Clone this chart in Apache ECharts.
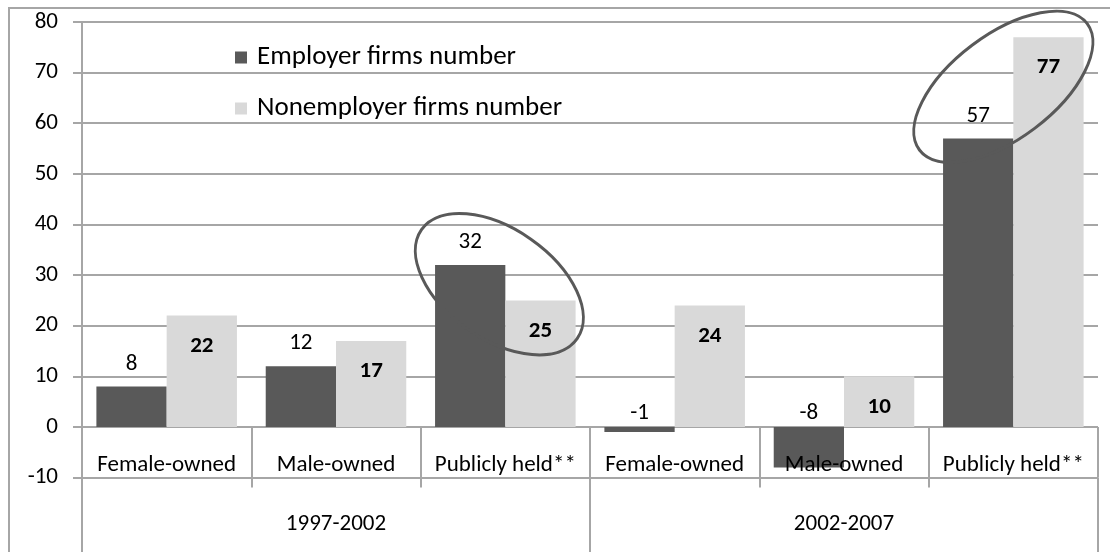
<!DOCTYPE html>
<html>
<head>
<meta charset="utf-8">
<script src="https://cdn.jsdelivr.net/npm/echarts@6/dist/echarts.min.js"></script>
<style>
  html, body { margin: 0; padding: 0; background: #fff; }
  #chart { width: 1110px; height: 552px; }
</style>
</head>
<body>
<div id="chart"></div>
<script>
// Percent change in number of firms, by ownership and period
const categories = ['Female-owned', 'Male-owned', 'Publicly held**', 'Female-owned', 'Male-owned', 'Publicly held**'];
const periods = ['1997-2002', '2002-2007'];
const employerFirms = [8, 12, 32, -1, -8, 57];
const nonemployerFirms = [22, 17, 25, 24, 10, 77];
const yMin = -10, yMax = 80, yStep = 10;

const FONT = 'Carlito, Lato, sans-serif';
const GRID_COLOR = '#a6a6a6';
const DARK = '#595959';
const LIGHT = '#d9d9d9';
const LABEL_SIZE = 23;

const chart = echarts.init(document.getElementById('chart'), null, { renderer: 'canvas' });

const option = {
  animation: false,
  backgroundColor: '#fff',
  textStyle: { fontFamily: FONT },
  grid: { left: 82, right: 12, top: 22, bottom: 74.4, containLabel: false },
  legend: {
    orient: 'vertical',
    left: 230,
    top: 39,
    itemWidth: 12,
    itemHeight: 12,
    itemGap: 24,
    icon: 'rect',
    textStyle: { fontFamily: FONT, fontSize: 27, color: '#000', padding: [0, 0, 0, 5] },
    data: ['Employer firms number', 'Nonemployer firms number']
  },
  xAxis: [
    {
      // ownership categories: labels and separators between the zero line and the bottom gridline
      type: 'category',
      data: categories,
      z: 5,
      axisLine: { show: false, onZero: false },
      axisTick: { show: true, inside: true, interval: 0, length: 50.6, lineStyle: { color: GRID_COLOR, width: 2 } },
      axisLabel: { inside: true, interval: 0, margin: 1, fontFamily: FONT, fontSize: LABEL_SIZE, color: '#000' },
      splitLine: { show: false }
    },
    {
      // period groups
      type: 'category',
      data: periods,
      position: 'bottom',
      axisLine: { show: false, onZero: false },
      axisTick: { show: true, interval: 0, length: 80, lineStyle: { color: GRID_COLOR, width: 2 } },
      axisLabel: { interval: 0, margin: 35, fontFamily: FONT, fontSize: LABEL_SIZE, color: '#000' },
      splitLine: { show: false }
    },
    {
      // short extension of the category separators below the bottom gridline
      type: 'category',
      data: categories,
      position: 'bottom',
      axisLine: { show: false, onZero: false },
      axisTick: { show: true, interval: 0, length: 10, lineStyle: { color: GRID_COLOR, width: 2 } },
      axisLabel: { show: false },
      splitLine: { show: false }
    }
  ],
  yAxis: {
    type: 'value',
    min: yMin,
    max: yMax,
    interval: yStep,
    axisLine: { show: true, lineStyle: { color: GRID_COLOR, width: 2 } },
    axisTick: { show: true, length: 9, lineStyle: { color: GRID_COLOR, width: 2 } },
    axisLabel: { margin: 24, fontFamily: FONT, fontSize: LABEL_SIZE, color: '#000' },
    splitLine: { show: true, lineStyle: { color: GRID_COLOR, width: 2 } }
  },
  series: [
    {
      name: 'Employer firms number',
      type: 'bar',
      xAxisIndex: 0,
      barGap: '0%',
      barCategoryGap: '17%',
      itemStyle: { color: DARK },
      label: {
        show: true, position: 'top', distance: 11,
        fontFamily: FONT, fontSize: LABEL_SIZE, color: '#000'
      },
      data: employerFirms.map(v => v < 0 ? { value: v, label: { distance: 2 } } : v)
    },
    {
      name: 'Nonemployer firms number',
      type: 'bar',
      xAxisIndex: 0,
      barGap: '0%',
      barCategoryGap: '17%',
      itemStyle: { color: LIGHT },
      label: {
        show: true, position: 'insideTop', distance: 19,
        fontFamily: FONT, fontSize: LABEL_SIZE, fontWeight: 'bold', color: '#000'
      },
      data: nonemployerFirms
    }
  ]
};

chart.setOption(option);

// Highlight rings around the publicly held pairs, anchored to data coordinates
function ring(catIndex, value, dx, rx, ry, angleDeg) {
  const p = chart.convertToPixel({ xAxisIndex: 0, yAxisIndex: 0 }, [catIndex, value]);
  return {
    type: 'ellipse',
    x: p[0] + dx,
    y: p[1],
    rotation: angleDeg * Math.PI / 180,
    shape: { cx: 0, cy: 0, rx: rx, ry: ry },
    style: { fill: 'none', stroke: DARK, lineWidth: 3 },
    z: 10
  };
}

chart.setOption({
  graphic: [
    {
      type: 'rect',
      shape: { x: 9, y: 8, width: 1120, height: 560 },
      style: { fill: 'none', stroke: GRID_COLOR, lineWidth: 2 },
      silent: true,
      z: -1
    },
    ring(2, 28.2, -6, 95, 55, -35),
    ring(5, 67.2, -10, 105, 52, 37)
  ]
});
</script>
</body>
</html>
